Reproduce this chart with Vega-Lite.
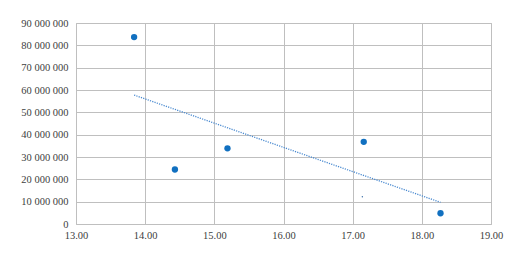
{
  "$schema": "https://vega.github.io/schema/vega-lite/v6.json",
  "width": 415,
  "height": 201,
  "autosize": "none",
  "padding": {"left": 76, "top": 23, "right": 30, "bottom": 34},
  "background": "white",
  "config": {
    "locale": {"number": {"decimal": ".", "thousands": " ", "grouping": [3], "currency": ["", ""]}},
    "view": {"stroke": "#bfbfbf"},
    "axis": {
      "labelFont": "Liberation Sans Narrow",
      "labelFontSize": 10.5,
      "labelColor": "#404040",
      "labelOverlap": false,
      "labelFlush": false,
      "gridColor": "#bfbfbf",
      "gridWidth": 1,
      "domain": false,
      "ticks": false,
      "title": null
    }
  },
  "data": {
    "values": [
      {"x": 13.84, "y": 83700000, "kind": "main"},
      {"x": 14.43, "y": 24400000, "kind": "main"},
      {"x": 15.19, "y": 33900000, "kind": "main"},
      {"x": 17.16, "y": 36800000, "kind": "main"},
      {"x": 18.27, "y": 4800000, "kind": "main"},
      {"x": 17.14, "y": 12200000, "kind": "tiny"}
    ]
  },
  "encoding": {
    "x": {
      "field": "x", "type": "quantitative",
      "scale": {"domain": [13, 19], "nice": false, "zero": false},
      "axis": {"values": [13, 14, 15, 16, 17, 18, 19], "format": ".2f", "labelPadding": 6}
    },
    "y": {
      "field": "y", "type": "quantitative",
      "scale": {"domain": [0, 90000000], "nice": false},
      "axis": {"values": [0, 10000000, 20000000, 30000000, 40000000, 50000000, 60000000, 70000000, 80000000, 90000000], "tickCount": 10, "format": ",d", "labelPadding": 8}
    }
  },
  "layer": [
    {
      "transform": [
        {"filter": "datum.kind == 'main'"},
        {"regression": "y", "on": "x"}
      ],
      "mark": {"type": "line", "color": "#4a8ad0", "strokeWidth": 1.3, "strokeDash": [1.2, 1.2]}
    },
    {
      "mark": {"type": "point", "filled": true, "opacity": 1},
      "encoding": {
        "size": {
          "field": "kind", "type": "nominal",
          "scale": {"domain": ["main", "tiny"], "range": [40, 2]},
          "legend": null
        },
        "color": {
          "field": "kind", "type": "nominal",
          "scale": {"domain": ["main", "tiny"], "range": ["#1170c0", "#3b6fa8"]},
          "legend": null
        }
      }
    }
  ]
}
